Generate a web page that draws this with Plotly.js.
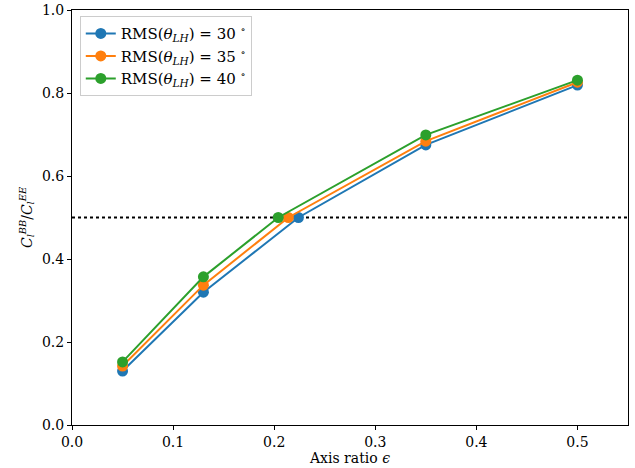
<!DOCTYPE html>
<html>
<head>
<meta charset="utf-8">
<script src="https://cdn.plot.ly/plotly-3.0.1.min.js"></script>
<style>html,body{margin:0;padding:0;background:#fff;}#chart{width:635px;height:468px;}</style>
</head>
<body>
<div id="chart"></div>
<script>
const seriesNames = [
  "RMS(<i>θ</i><sub><i>LH</i></sub>) = 30 <sup>∘</sup>",
  "RMS(<i>θ</i><sub><i>LH</i></sub>) = 35 <sup>∘</sup>",
  "RMS(<i>θ</i><sub><i>LH</i></sub>) = 40 <sup>∘</sup>"
];
const x30 = [0.05, 0.13, 0.224, 0.35, 0.5];
const y30 = [0.130, 0.320, 0.5, 0.675, 0.819];
const x35 = [0.05, 0.13, 0.214, 0.35, 0.5];
const y35 = [0.142, 0.337, 0.5, 0.684, 0.826];
const x40 = [0.05, 0.13, 0.204, 0.35, 0.5];
const y40 = [0.152, 0.357, 0.5, 0.699, 0.831];
const colors = ["#1f77b4", "#ff7f0e", "#2ca02c"];
const thresholdY = 0.5;
const xRange = [0, 0.55];
const yRange = [0, 1.0];

const font = {family: "DejaVu Serif, serif", size: 14, color: "#000"};
const xs = [x30, x35, x40], ys = [y30, y35, y40];
const traces = xs.map((xv, i) => ({
  x: xv, y: ys[i], type: "scatter", mode: "lines+markers", name: seriesNames[i],
  line: {color: colors[i], width: 2},
  marker: {color: colors[i], size: 11}
}));

const layout = {
  width: 635, height: 468,
  margin: {l: 72, r: 7, t: 10, b: 43},
  paper_bgcolor: "#fff", plot_bgcolor: "#fff",
  font: font,
  showlegend: true,
  legend: {x: 0.014, y: 0.985, xanchor: "left", yanchor: "top",
    bgcolor: "rgba(255,255,255,0.8)", bordercolor: "#cccccc", borderwidth: 1,
    font: {family: "DejaVu Serif, serif", size: 15, color: "#000"}, tracegroupgap: 2},
  xaxis: {range: xRange, tickvals: [0, 0.1, 0.2, 0.3, 0.4, 0.5], ticktext: ["0.0","0.1","0.2","0.3","0.4","0.5"],
    ticks: "outside", ticklen: 4, tickcolor: "#000", showgrid: false, zeroline: false,
    showline: true, linecolor: "#000", linewidth: 1, mirror: true,
    title: {text: "Axis ratio <i>ϵ</i>", font: font, standoff: 3}},
  yaxis: {range: yRange, tickvals: [0, 0.2, 0.4, 0.6, 0.8, 1.0], ticktext: ["0.0","0.2","0.4","0.6","0.8","1.0"],
    ticks: "outside", ticklen: 4, tickcolor: "#000", showgrid: false, zeroline: false,
    showline: true, linecolor: "#000", linewidth: 1, mirror: true,
    title: {text: "<i>C</i><sub><i>l</i></sub><sup><i>BB</i></sup>/<i>C</i><sub><i>l</i></sub><sup><i>EE</i></sup>", font: font, standoff: 6}},
  shapes: [{type: "line", xref: "paper", x0: 0, x1: 1, yref: "y", y0: thresholdY, y1: thresholdY,
    line: {color: "#000", width: 2, dash: "dot"}, layer: "below"}]
};
Plotly.newPlot("chart", traces, layout, {displayModeBar: false, staticPlot: true});
</script>
</body>
</html>
